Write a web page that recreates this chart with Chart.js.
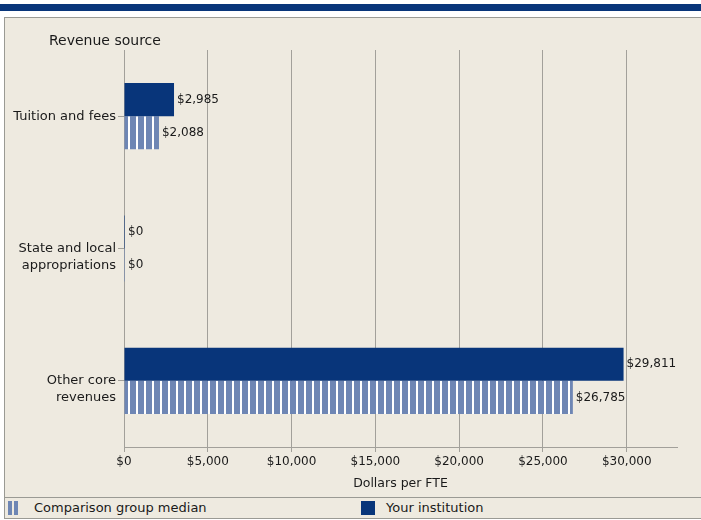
<!DOCTYPE html>
<html>
<head>
<meta charset="utf-8">
<script src="https://cdn.jsdelivr.net/npm/chart.js@4"></script>
<style>
  html, body { margin: 0; padding: 0; background: #ffffff; }
  body { width: 701px; height: 520px; position: relative; overflow: hidden; font-family: "DejaVu Sans", Verdana, sans-serif; color: #111; }
  #band { position: absolute; left: 0; top: 4px; width: 701px; height: 7px; background: #08357a; }
  #panel { position: absolute; left: 4px; top: 17px; width: 710px; height: 500px; background: #eeeae0; border: 1px solid #9a9a94; }
  #chartbox { position: absolute; left: 0px; top: 0px; width: 697px; height: 479px; }
  #title { position: absolute; left: 44px; top: 14px; font-size: 14px; color: #1a1a1a; }
  #legend { position: absolute; left: 0; top: 479px; width: 710px; height: 21px; border-top: 1px solid #9a9a94; font-size: 13px; }
  .sw { position: absolute; top: 3px; height: 14px; }
  .lt { position: absolute; top: 2px; color: #1a1a1a; }
</style>
</head>
<body>
<div id="band"></div>
<div id="panel">
  <div id="chartbox"><canvas id="c" width="697" height="479"></canvas></div>
  <div id="title">Revenue source</div>
  <div id="legend">
    <div class="sw" style="left:3px;width:4px;background:#6e86b4"></div>
    <div class="sw" style="left:9px;width:4px;background:#6e86b4"></div>
    <div class="lt" style="left:29px">Comparison group median</div>
    <div class="sw" style="left:356px;width:14px;background:#08357a"></div>
    <div class="lt" style="left:381px">Your institution</div>
  </div>
</div>
<script>
const categories = [["Tuition and fees"], ["", "State and local", "appropriations"], ["", "Other core", "revenues"]];
const yourInstitution = [2985, 0, 29811];
const comparisonMedian = [2088, 0, 26785];
const xTicks = [0, 5000, 10000, 15000, 20000, 25000, 30000];

const DARK = "#08357a";
const LIGHT = "#6e86b4";
const BG = "#eeeae0";
const GRID = "#a2a09a";

function stripes() {
  const p = document.createElement("canvas");
  p.width = 8; p.height = 4;
  const g = p.getContext("2d");
  g.fillStyle = LIGHT; g.fillRect(0, 0, 8, 4);
  g.fillStyle = "#ffffff"; g.fillRect(3, 0, 2, 4);
  return g.canvas;
}
const ctx = document.getElementById("c").getContext("2d");
const pattern = ctx.createPattern(stripes(), "repeat");

const fmt = v => "$" + v.toLocaleString("en-US");

const valueLabels = {
  id: "valueLabels",
  afterDatasetsDraw(chart) {
    const c = chart.ctx;
    c.save();
    c.font = "12px 'DejaVu Sans'";
    c.fillStyle = "#1a1a1a";
    c.textBaseline = "middle";
    c.textAlign = "left";
    chart.data.datasets.forEach((ds, i) => {
      chart.getDatasetMeta(i).data.forEach((bar, j) => {
        c.fillText(fmt(ds.data[j]), Math.max(bar.x, bar.base) + 3, bar.y);
      });
    });
    c.restore();
  }
};
const bgPlugin = {
  id: "bgFill",
  beforeDraw(chart) {
    const c = chart.ctx;
    c.save(); c.fillStyle = BG; c.fillRect(0, 0, chart.width, chart.height); c.restore();
  }
};

new Chart(ctx, {
  type: "bar",
  data: {
    labels: categories,
    datasets: [
      { label: "Your institution", data: yourInstitution, backgroundColor: DARK, minBarLength: 1 },
      { label: "Comparison group median", data: comparisonMedian, backgroundColor: pattern, minBarLength: 1 }
    ]
  },
  options: {
    indexAxis: "y",
    responsive: false,
    animation: false,
    devicePixelRatio: 1,
    categoryPercentage: 0.5,
    barPercentage: 1.0,
    layout: { padding: { left: 0, right: 25, top: 32, bottom: 0 } },
    plugins: { legend: { display: false }, tooltip: { enabled: false }, title: { display: false } },
    scales: {
      x: {
        min: 0, max: 33000,
        afterBuildTicks(scale) { scale.ticks = xTicks.map(v => ({ value: v })); },
        afterFit(scale) { scale.height = 50; },
        grid: { color: GRID, lineWidth: 1, tickLength: 5, drawTicks: true, tickColor: GRID },
        border: { display: true, color: GRID, width: 1 },
        ticks: { color: "#1a1a1a", font: { family: "DejaVu Sans", size: 12 }, padding: 3, callback: v => fmt(v), maxRotation: 0, autoSkip: false },
        title: { display: true, text: "Dollars per FTE", color: "#1a1a1a", font: { family: "DejaVu Sans", size: 12.5 }, padding: { top: 0, bottom: 6 } }
      },
      y: {
        afterFit(scale) { scale.width = 119; },
        grid: { display: true, drawOnChartArea: false, drawTicks: true, tickLength: 6, offset: false, color: GRID, tickColor: GRID },
        border: { display: true, color: GRID, width: 1 },
        ticks: { color: "#1a1a1a", font: { family: "DejaVu Sans", size: 13, lineHeight: 1.3 }, padding: 2 }
      }
    }
  },
  plugins: [bgPlugin, valueLabels]
});
</script>
</body>
</html>
